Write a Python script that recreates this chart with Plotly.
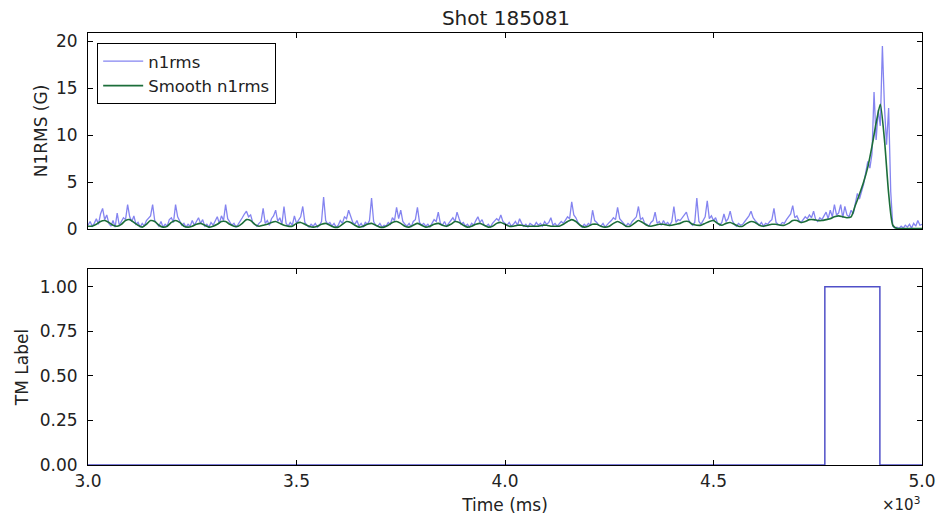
import numpy as np
import plotly.graph_objects as go
from plotly.subplots import make_subplots

# ---------------- data ----------------
# raw n1rms, sampled every 5 ms from 3000 ms to 5000 ms
raw_chunks = [
    [0.4,0.8,0.3,0.6,1.1,0.5,1.6,2.2,1.0,1.5,0.6,0.3,0.9,0.2,1.7,0.4,0.8,1.2,1.0,2.6],  # 3000
    [1.3,0.8,1.4,0.5,0.7,0.2,0.6,0.3,0.9,1.1,1.4,2.6,0.9,0.6,0.3,0.8,0.2,0.5,0.3,1.0],  # 3100
    [1.2,0.7,2.6,1.3,0.8,0.4,0.6,0.2,0.5,0.3,0.9,0.4,0.8,1.2,0.6,1.0,0.3,0.5,0.2,0.7],  # 3200
    [0.4,0.9,1.3,0.6,1.4,0.9,2.6,1.1,0.7,0.4,0.6,0.2,0.5,0.8,1.2,1.6,1.9,1.3,1.5,0.7],  # 3300
    [0.5,0.3,0.6,0.8,2.2,0.6,0.9,0.4,1.1,1.4,2.0,0.8,1.2,0.5,2.4,0.6,0.3,0.7,0.4,1.4],  # 3400
    [0.6,1.0,1.3,2.4,0.7,0.4,0.2,0.5,0.3,0.6,0.2,0.4,0.8,3.4,0.9,0.5,0.7,0.3,0.6,0.2],  # 3500
    [0.4,0.9,0.6,1.3,1.1,2.0,1.4,0.7,0.5,0.9,0.3,0.6,0.2,0.7,0.5,0.9,3.3,0.8,0.4,0.3],  # 3600
    [0.6,0.2,0.4,0.3,0.7,0.5,1.2,0.9,2.3,1.1,2.0,0.8,0.5,0.3,0.6,0.2,0.8,1.0,2.3,0.7],  # 3700
    [0.4,0.6,0.3,0.5,0.2,0.7,1.0,0.8,1.8,0.6,0.4,0.8,0.3,0.6,0.9,1.2,0.8,1.8,1.1,0.5],  # 3800
    [0.7,0.3,0.5,0.2,0.6,0.4,0.9,1.3,0.7,1.0,0.4,0.3,0.5,0.2,0.6,0.8,1.1,0.9,1.5,0.8],  # 3900
    [0.6,0.4,0.7,0.3,0.5,0.8,0.4,1.1,0.6,0.3,0.5,0.2,0.6,0.4,0.3,0.7,0.4,0.6,0.3,0.8],  # 4000
    [0.5,0.7,1.2,0.4,0.6,0.3,0.5,0.8,0.6,1.0,1.3,1.1,2.9,1.5,1.2,0.7,0.4,0.2,0.5,0.3],  # 4100
    [0.6,0.4,2.0,0.9,0.7,0.4,0.3,0.6,0.2,0.5,0.7,0.9,1.2,1.0,2.3,1.1,0.8,0.5,0.3,0.6],  # 4200
    [0.4,0.8,1.1,1.3,2.4,1.0,1.2,0.6,0.5,0.3,0.7,0.9,1.8,0.6,0.8,0.4,0.9,0.5,0.7,0.4],  # 4300
    [0.8,2.4,0.7,1.0,0.9,1.2,1.4,1.8,1.0,0.6,0.4,0.7,3.3,0.8,0.5,0.9,1.3,3.0,1.1,1.4],  # 4400
    [0.9,1.2,0.6,0.4,0.7,1.6,0.8,1.1,1.9,0.9,0.5,0.3,0.6,0.4,0.5,0.8,1.1,1.4,1.9,1.2],  # 4500
    [0.9,0.6,0.4,0.7,0.3,0.6,0.5,0.8,1.0,2.2,0.7,0.5,0.4,0.7,0.6,1.0,1.3,1.6,2.5,1.2],  # 4600
    [1.4,0.9,0.7,1.0,1.3,1.1,1.5,1.2,1.9,1.0,0.8,1.2,1.0,1.4,1.8,1.1,2.0,1.3,2.6,1.5],  # 4700
    [1.7,2.6,1.2,2.4,1.5,1.3,2.0,1.6,2.8,3.8,3.2,4.0,4.8,6.0,7.2,6.5,8.0,14.6,9.5,12.7],  # 4800
    [11.0,19.5,13.0,9.0,12.9,4.0,0.3,0.1,0.2,0.05,0.3,0.1,0.4,0.2,0.5,0.1,0.6,0.3,0.9,0.4],  # 4900
    [0.5],  # 5000
]
n1rms = [v for chunk in raw_chunks for v in chunk]
raw_time_ms = np.arange(3000, 5001, 5)

# smoothed n1rms, sampled every 10 ms
smooth_chunks = [
    [0.3,0.3,0.5,0.8,0.9,0.7,0.4,0.3,0.5,0.9],
    [1.0,0.7,0.4,0.2,0.5,0.9,0.8,0.4,0.2,0.3],
    [0.7,0.9,0.7,0.3,0.2,0.3,0.5,0.6,0.4,0.2],
    [0.3,0.5,0.8,0.8,0.5,0.3,0.3,0.6,1.0,0.9],
    [0.5,0.3,0.4,0.5,0.7,0.8,0.6,0.4,0.3,0.3],
    [0.6,0.7,0.5,0.3,0.2,0.3,0.5,0.6,0.4,0.2],
    [0.2,0.5,0.8,0.7,0.4,0.2,0.3,0.5,0.6,0.4],
    [0.2,0.2,0.4,0.7,0.8,0.6,0.3,0.2,0.4,0.6],
    [0.4,0.2,0.3,0.5,0.6,0.4,0.3,0.5,0.8,0.7],
    [0.4,0.2,0.3,0.5,0.6,0.4,0.2,0.3,0.6,0.7],
    [0.5,0.3,0.3,0.4,0.4,0.3,0.3,0.3,0.3,0.4],
    [0.4,0.3,0.3,0.3,0.5,0.8,1.0,0.8,0.4,0.2],
    [0.3,0.5,0.5,0.3,0.2,0.3,0.6,0.8,0.6,0.3],
    [0.3,0.6,0.9,0.7,0.4,0.3,0.4,0.5,0.5,0.4],
    [0.4,0.5,0.6,0.8,0.8,0.5,0.4,0.4,0.6,0.8],
    [0.9,0.6,0.4,0.6,0.7,0.5,0.3,0.3,0.6,0.8],
    [0.7,0.4,0.3,0.4,0.5,0.5,0.4,0.4,0.6,0.9],
    [0.9,0.7,0.8,1.0,1.0,0.9,0.9,1.0,1.1,1.3],
    [1.4,1.3,1.2,1.3,2.5,3.7,5.0,6.6,8.8,11.3],
    [13.3,9.5,3.8,0.4,0.05,0.05,0.05,0.05,0.05,0.05],
    [0.05],
]
smooth_n1rms = [v for chunk in smooth_chunks for v in chunk]
smooth_time_ms = np.arange(3000, 5001, 10)

# tearing-mode label (step)
tm_time_ms = [3000, 4767, 4899, 5000]
tm_label = [0, 1, 0, 0]

x_ticks = [3.0, 3.5, 4.0, 4.5, 5.0]
y1_ticks = [0, 5, 10, 15, 20]
y2_ticks = [0.0, 0.25, 0.5, 0.75, 1.0]
y2_ticklabels = ["0.00", "0.25", "0.50", "0.75", "1.00"]

# ---------------- figure ----------------
W, H = 936, 515
ml, mr, mt, mb = 88, 14, 33, 50
plot_h = H - mt - mb
top_dom = [(465 - 229) / plot_h, 1.0]
bot_dom = [0.0, (465 - 269) / plot_h]

FONT = "DejaVu Sans"
TXT = "#222"
fig = make_subplots(rows=2, cols=1)

fig.add_trace(go.Scatter(
    x=raw_time_ms / 1000.0, y=n1rms, mode="lines", name="n1rms",
    line=dict(color="rgba(50,50,230,0.6)", width=1.3)), row=1, col=1)
fig.add_trace(go.Scatter(
    x=smooth_time_ms / 1000.0, y=smooth_n1rms, mode="lines", name="Smooth n1rms",
    line=dict(color="rgb(28,110,58)", width=1.6, shape="spline", smoothing=0.6)), row=1, col=1)
fig.add_trace(go.Scatter(
    x=np.array(tm_time_ms) / 1000.0, y=tm_label, mode="lines", showlegend=False,
    line=dict(color="rgb(80,80,200)", width=1.5, shape="hv")), row=2, col=1)

axis_common = dict(
    showline=True, linecolor="black", linewidth=1, mirror="ticks",
    ticks="inside", ticklen=5, tickcolor="black", showgrid=False, zeroline=False,
    tickfont=dict(family=FONT, size=17, color=TXT), automargin=False,
)

fig.update_xaxes(**axis_common, range=[3.0, 5.0], tickvals=x_ticks)
fig.update_xaxes(showticklabels=False, row=1, col=1)
fig.update_xaxes(tickformat=".1f", ticklabelstandoff=1, row=2, col=1,
                 title=dict(text="Time (ms)", font=dict(family=FONT, size=17, color=TXT), standoff=8))

fig.update_yaxes(**axis_common)
fig.update_yaxes(range=[0, 20.9], tickvals=y1_ticks, ticklabelstandoff=6, row=1, col=1,
                 title=dict(text="N1RMS (G)", font=dict(family=FONT, size=17, color=TXT), standoff=4))
fig.update_yaxes(range=[0, 1.1], tickvals=y2_ticks, ticktext=y2_ticklabels, ticklabelstandoff=6,
                 row=2, col=1,
                 title=dict(text="TM Label", font=dict(family=FONT, size=17, color=TXT), standoff=6))

fig.update_layout(
    width=W, height=H,
    margin=dict(l=ml, r=mr, t=mt, b=mb, autoexpand=False),
    paper_bgcolor="white", plot_bgcolor="white",
    yaxis=dict(domain=top_dom), yaxis2=dict(domain=bot_dom),
    title=dict(text="Shot 185081", x=506 / W, xanchor="center", y=1 - 18 / H, yanchor="middle",
               font=dict(family=FONT, size=20, color=TXT)),
    legend=dict(x=0.011, y=0.977, xanchor="left", yanchor="top",
                bgcolor="white", bordercolor="black", borderwidth=1,
                font=dict(family=FONT, size=16.5, color=TXT),
                itemwidth=40, tracegroupgap=0),
    annotations=[dict(text="×10<sup>3</sup>", xref="paper", yref="paper",
                      x=1.0, y=-0.09, xanchor="right", yanchor="middle", showarrow=False,
                      font=dict(family=FONT, size=15, color=TXT))],
    showlegend=True,
)

fig.write_html("out.html")
